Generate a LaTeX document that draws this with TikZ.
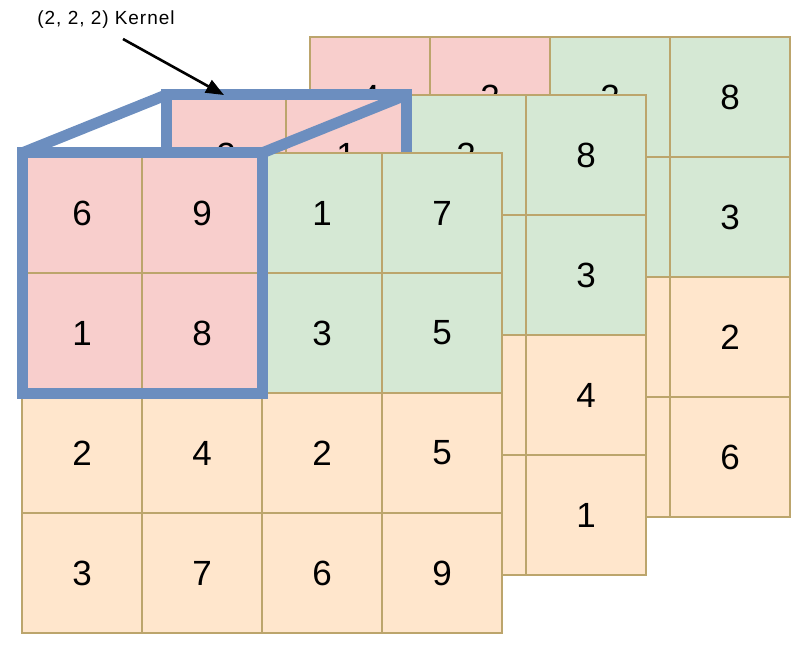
\documentclass[tikz,border=0pt]{standalone}
\usepackage{fontspec}
\setmainfont{Liberation Sans}
\newfontfamily\labelfont[LetterSpace=5]{Liberation Sans}
\usetikzlibrary{arrows.meta}

\definecolor{cellred}{HTML}{F8CECC}
\definecolor{cellgreen}{HTML}{D5E8D4}
\definecolor{cellorange}{HTML}{FFE6CC}
\definecolor{cellline}{RGB}{188,165,108}
\definecolor{kernelblue}{HTML}{6C8EBF}

\begin{document}
\begin{tikzpicture}[x=1pt, y=-1pt,
  cell/.style={rectangle, draw=cellline, line width=1.5pt, minimum size=120pt,
    inner sep=0pt, outer sep=0pt, font=\fontsize{35}{35}\selectfont},
  kernel/.style={draw=kernelblue, line width=11pt, line join=miter}]
\useasboundingbox (0,0) rectangle (803,655);

% back layer
\foreach \r/\row in {0/{4,2,2,8},1/{{},{},{},3},2/{{},{},{},2},3/{{},{},{},6}}
  \foreach \v [count=\c from 0] in \row {
    \ifnum\r>1 \def\tone{cellorange}\else\ifnum\c>1 \def\tone{cellgreen}\else\def\tone{cellred}\fi\fi
    \node (b\r\c) at (370+120*\c, 97+120*\r) [cell, fill=\tone] {\v};
  }

% middle layer
\foreach \r/\row in {0/{2,1,2,8},1/{{},{},{},3},2/{{},{},{},4},3/{{},{},{},1}}
  \foreach \v [count=\c from 0] in \row {
    \ifnum\r>1 \def\tone{cellorange}\else\ifnum\c>1 \def\tone{cellgreen}\else\def\tone{cellred}\fi\fi
    \node (m\r\c) at (226+120*\c, 155+120*\r) [cell, fill=\tone] {\v};
  }

% back face of the kernel
\draw[kernel] (m00.north west) rectangle (m11.south east);

% front layer
\foreach \r/\row in {0/{6,9,1,7},1/{1,8,3,5},2/{2,4,2,5},3/{3,7,6,9}}
  \foreach \v [count=\c from 0] in \row {
    \ifnum\r>1 \def\tone{cellorange}\else\ifnum\c>1 \def\tone{cellgreen}\else\def\tone{cellred}\fi\fi
    \node (f\r\c) at (82+120*\c, 213+120*\r) [cell, fill=\tone] {\v};
  }

% front face and sides of the kernel
\draw[kernel] (f00.north west) rectangle (f11.south east);
\draw[kernel] (f00.north west) -- (m00.north west);
\draw[kernel] (f01.north east) -- (m01.north east);

% label
\node (title) at (106,24.5) [anchor=base, font=\fontsize{19}{19}\labelfont] {(2, 2, 2) Kernel};
\coordinate (tail) at (123,39);
\coordinate (tip) at (224,95);
\draw[-{Triangle[length=18pt, width=14pt]}, line width=2.6pt] (tail) -- (tip);

\end{tikzpicture}
\end{document}
